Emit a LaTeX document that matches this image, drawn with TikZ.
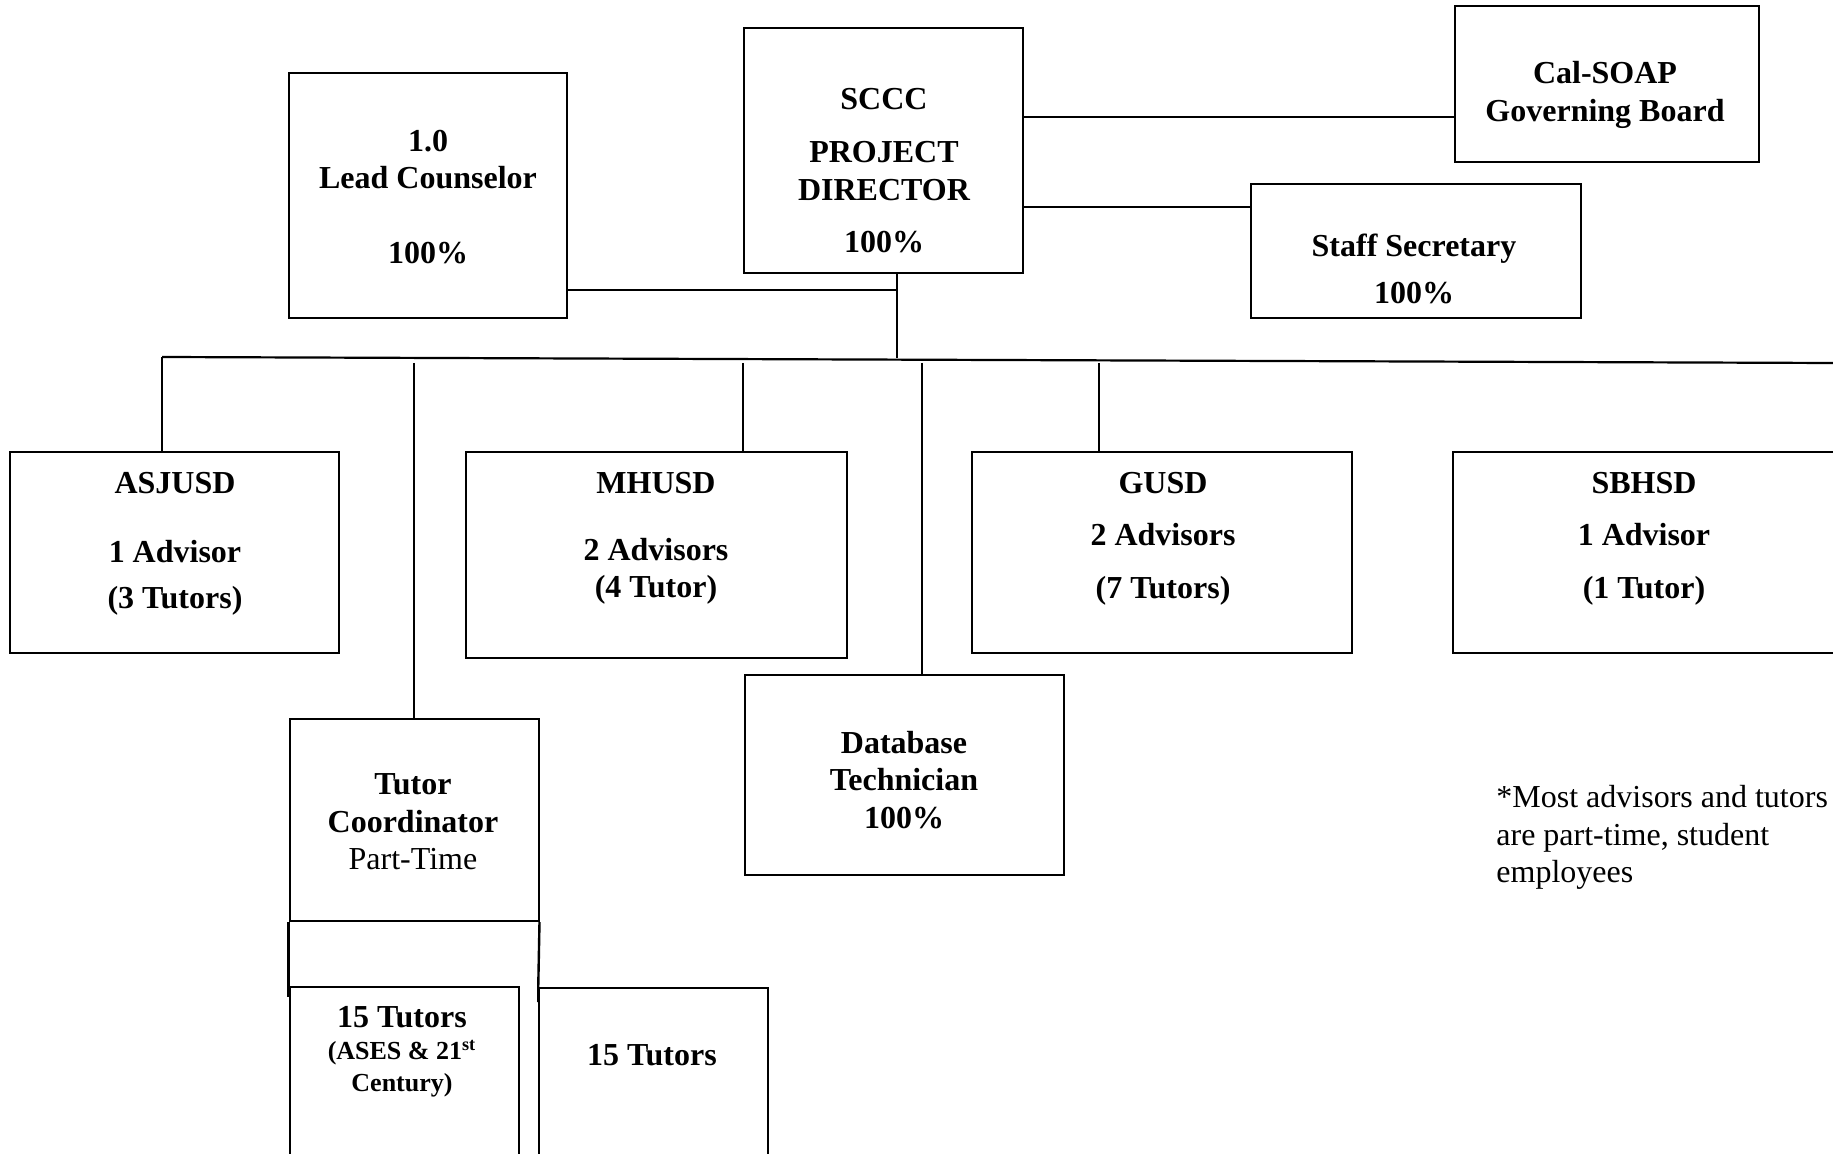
\documentclass[tikz,border=0pt]{standalone}
\usepackage{fontspec}
\setmainfont{Liberation Serif}
\tikzset{
  box/.style={draw, line width=1pt, inner sep=0pt},
  txt/.style={align=center, inner sep=0pt, font=\fontsize{16}{18.7}\selectfont\bfseries},
  link/.style={line width=0.8pt}
}
\begin{document}
\begin{tikzpicture}[x=0.5pt, y=-0.5pt]
  \useasboundingbox (0,0) rectangle (1833,1154);
  \fill[white] (0,0) rectangle (1833,1154);
  \clip (0,0) rectangle (1833,1154);

% top row
\node[box, minimum width=139pt, minimum height=122.5pt] (lead) at (428,195.5) {};
\node[box, minimum width=139.5pt, minimum height=122.5pt] (sccc) at (883.5,150.5) {};
\node[box, minimum width=152pt, minimum height=78pt] (calsoap) at (1607,84) {};
\node[box, minimum width=165pt, minimum height=67pt] (staff) at (1416,251) {};

\node[txt] (lead-t) at (428,197) {1.0\\Lead Counselor\\[18.7pt]100\%};
\node[txt] (sccc-t) at (884,171) {SCCC\\[7.7pt]PROJECT\\DIRECTOR\\[7.7pt]100\%};
\node[txt] (calsoap-t) at (1605,95) {Cal-SOAP\\Governing Board};
\node[txt] (staff-t) at (1414,269) {Staff Secretary\\[4.5pt]100\%};

% districts
\node[box, minimum width=164.5pt, minimum height=100.5pt] (asjusd) at (174.5,552.5) {};
\node[box, minimum width=190.5pt, minimum height=103pt] (mhusd) at (656.5,555) {};
\node[box, minimum width=190pt, minimum height=100.5pt] (gusd) at (1162,552.5) {};
\node[box, minimum width=193.5pt, minimum height=100.5pt] (sbhsd) at (1646.5,552.5) {};

\node[txt] (asjusd-t) at (175,543.5) {ASJUSD\\[15.8pt]1 Advisor\\[4.3pt](3 Tutors)};
\node[txt] (mhusd-t) at (656,538.5) {MHUSD\\[14.8pt]2 Advisors\\(4 Tutor)};
\node[txt] (gusd-t) at (1163,538.5) {GUSD\\[7.3pt]2 Advisors\\[7.8pt](7 Tutors)};
\node[txt] (sbhsd-t) at (1644,538.5) {SBHSD\\[7.3pt]1 Advisor\\[7.8pt](1 Tutor)};

% lower boxes
\node[box, minimum width=159.5pt, minimum height=100pt] (db) at (904.5,775) {};
\node[box, minimum width=124.5pt, minimum height=101pt] (coord) at (414,820) {};
\node[box, minimum width=114.5pt, minimum height=91.5pt] (ases) at (404,1078.5) {};
\node[box, minimum width=114.5pt, minimum height=91pt] (tutors) at (653.75,1079) {};

\node[txt] (db-t) at (904,780) {Database\\Technician\\100\%};
\node[txt] (coord-t) at (413,822) {Tutor\\Coordinator\\\textmd{Part-Time}};
\node[txt] (ases-t) at (402,1051.5) {15 Tutors\\[-2.7pt]{\fontsize{13}{15}\selectfont (ASES \& 21\textsuperscript{st}}\\[-2.7pt]{\fontsize{13}{15}\selectfont Century)}};
\node[txt] (tutors-t) at (652,1055.5) {15 Tutors};

\node[anchor=west, align=left, inner sep=0pt, font=\fontsize{16}{18.7}\selectfont] (note) at (1496,837.5)
  {*Most advisors and tutors\\are part-time, student\\employees};

% connectors
\coordinate (busL) at (162,357);
\coordinate (busR) at (1833,363);
\coordinate (trunk) at (897,358);
\coordinate (j) at (897,290);
\coordinate (d1) at (414,363);
\coordinate (d2) at (922,363);
\coordinate (d3) at (1099,363);

\draw[link] (sccc.east |- 0,117) -- (calsoap.west |- 0,117);
\draw[link] (sccc.east |- 0,207) -- (staff.west |- 0,207);
\draw[link] (trunk |- sccc.south) -- (trunk);
\draw[link] (lead.east |- j) -- (j);
\draw[line width=1.1pt] (busL) -- (busR);

\draw[link] (busL) -- (busL |- asjusd.north);
\draw[link] (d1) -- (coord.north);
\draw[link] (sccc.west |- d1) -- (sccc.west |- mhusd.north);
\draw[link] (d2) -- (d2 |- db.north);
\draw[link] (d3) -- (d3 |- gusd.north);

\draw[line width=1.2pt] (coord.south west) -- (ases.north west) -- ++(0,11);
\draw[line width=1.2pt] (coord.south east) -- (tutors.north west) -- ++(0,15);
\end{tikzpicture}
\end{document}
